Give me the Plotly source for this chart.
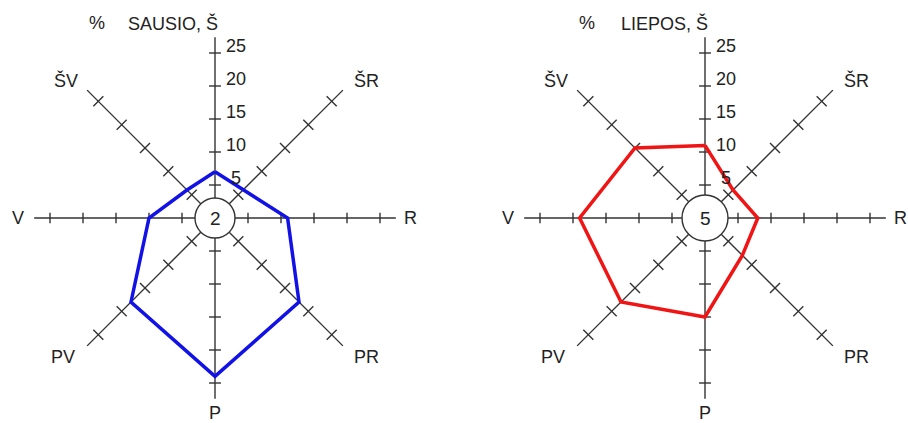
import numpy as np
import plotly.graph_objects as go

# wind directions (compass degrees, clockwise from north)
directions = ["Š", "ŠR", "R", "PR", "P", "PV", "V", "ŠV"]
angles = [0, 45, 90, 135, 180, 225, 270, 315]

# wind frequency, %
sausio = [7, 6, 11, 18, 24, 18, 10, 6]
liepos = [11, 6, 8, 8, 15, 18, 19, 15]
calm = [2, 5]
titles = ["SAUSIO, Š", "LIEPOS, Š"]
tick_values = [5, 10, 15, 20, 25]

W, H = 908, 423
PX = 6.6            # pixels per percent
AXIS_LEN = 27.4     # spoke length, %
centers = [(215, 218), (705, 218)]
domains = [[0, 0.5], [0.5, 1]]
circle_size = [40, 46]
colors = ["#1212e6", "#f01414"]
AX_COLOR = "#333333"
TXT = "#222222"
FONT = "Liberation Sans, Arial, sans-serif"

tick_symbol = {0: "line-ew", 180: "line-ew", 90: "line-ns", 270: "line-ns",
               45: "line-nw", 225: "line-nw", 135: "line-ne", 315: "line-ne"}
tick_size = {"line-ew": 8.5, "line-ns": 7.5, "line-nw": 10, "line-ne": 10}
# label offsets from the centre, px (right, up)
label_off = {"ŠR": (151, 138), "R": (195, 0), "PR": (151, -139), "P": (0, -195),
             "PV": (-152, -139), "V": (-197, 0), "ŠV": (-149, 138)}


def to_xy(r, deg):
    rad = np.radians(deg)
    return np.asarray(r) * np.sin(rad), np.asarray(r) * np.cos(rad)


fig = go.Figure()
annotations = []

for k, vals in enumerate([sausio, liepos]):
    xa = "x" if k == 0 else "x2"
    ya = "y" if k == 0 else "y2"

    # spokes
    sx, sy = [], []
    for a in angles[:4]:
        x0, y0 = to_xy(AXIS_LEN, a)
        sx += [x0, -x0, None]
        sy += [y0, -y0, None]
    fig.add_trace(go.Scatter(x=sx, y=sy, mode="lines", xaxis=xa, yaxis=ya,
                             line=dict(color=AX_COLOR, width=1.4), hoverinfo="skip"))

    # tick marks on every spoke
    for a in angles:
        tx, ty = to_xy(tick_values, a)
        sym = tick_symbol[a]
        fig.add_trace(go.Scatter(x=tx, y=ty, mode="markers", xaxis=xa, yaxis=ya,
                                 marker=dict(symbol=sym, size=tick_size[sym], color=AX_COLOR,
                                             line=dict(color=AX_COLOR, width=1.4)),
                                 hoverinfo="skip"))

    # calm circle
    fig.add_trace(go.Scatter(x=[0], y=[0], mode="markers", xaxis=xa, yaxis=ya,
                             marker=dict(symbol="circle", size=circle_size[k], color="white",
                                         line=dict(color=AX_COLOR, width=1.4)),
                             hoverinfo="skip"))

    # wind rose polygon
    px_, py_ = to_xy(vals + vals[:1], angles + angles[:1])
    fig.add_trace(go.Scatter(x=px_, y=py_, mode="lines", xaxis=xa, yaxis=ya,
                             line=dict(color=colors[k], width=3.5),
                             name=titles[k]))

    font = dict(family=FONT, size=18, color=TXT)
    annotations.append(dict(x=0, y=0, xref=xa, yref=ya, text=str(calm[k]),
                            showarrow=False, font=dict(family=FONT, size=19, color=TXT)))
    for t in tick_values:
        annotations.append(dict(x=20.5 / PX, y=t, xref=xa, yref=ya, text=str(t),
                                showarrow=False, yshift=7, xanchor="center", font=font))
    for d in directions[1:]:
        ox, oy = label_off[d]
        annotations.append(dict(x=ox / PX, y=oy / PX, xref=xa, yref=ya, text=d,
                                showarrow=False, font=font))
    annotations.append(dict(x=5 / PX, y=195 / PX, xref=xa, yref=ya, text=titles[k],
                            showarrow=False, xanchor="right", font=font))
    annotations.append(dict(x=-118 / PX, y=195 / PX, xref=xa, yref=ya, text="%",
                            showarrow=False, font=font))

layout_axes = {}
for k, (cx, cy) in enumerate(centers):
    left, right = domains[k][0] * W, domains[k][1] * W
    sfx = "" if k == 0 else "2"
    layout_axes["xaxis" + sfx] = dict(domain=domains[k], range=[-(cx - left) / PX, (right - cx) / PX],
                                      visible=False, fixedrange=True)
    layout_axes["yaxis" + sfx] = dict(domain=[0, 1], range=[-(H - cy) / PX, cy / PX],
                                      visible=False, fixedrange=True)

fig.update_layout(width=W, height=H, margin=dict(l=0, r=0, t=0, b=0),
                  paper_bgcolor="white", plot_bgcolor="white",
                  showlegend=False, hovermode=False,
                  annotations=annotations, **layout_axes)

# drop the default 8px body margin so the figure fills the window exactly
fig.write_html("out.html", config={"displayModeBar": False, "staticPlot": True},
               post_script="document.body.style.margin = '0';")
